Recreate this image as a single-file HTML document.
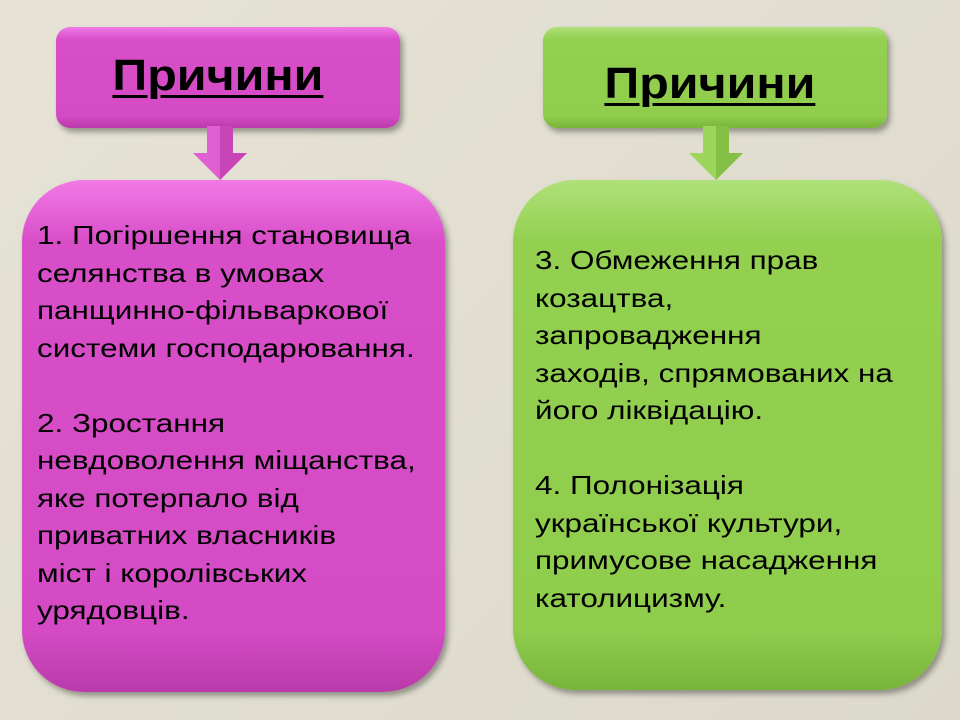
<!DOCTYPE html>
<html><head><meta charset="utf-8"><style>
body{margin:0;width:960px;height:720px;background:linear-gradient(135deg,#e6e3d6,#dcd9cb);position:relative;overflow:hidden;font-family:"Liberation Sans",Arial,sans-serif}
.b{position:absolute;box-sizing:border-box;box-shadow:3px 4px 6px rgba(0,0,0,.35)}
.p{background:linear-gradient(180deg,#f27ae6 0%,#d84ec8 12%,#d54bc5 88%,#b93aaa 100%)}
.g{background:linear-gradient(180deg,#b0e07a 0%,#93d050 12%,#90cd4d 88%,#78b43a 100%)}
.t{border-radius:14px;font-weight:bold;font-size:44px;text-align:center}
.t span{display:inline-block;transform:scaleX(1.1);text-decoration:underline;text-decoration-thickness:3px;text-underline-offset:5px}
.m{border-radius:62px;font-size:26px;line-height:37.5px;color:#000}
.m div{transform:scaleX(1.21);transform-origin:0 0;white-space:nowrap}
.arr{position:absolute}
</style></head><body>
<div class="b p t" style="left:56px;top:27px;width:344px;height:101px;padding-top:24px;padding-right:20px"><span>Причини</span></div>
<div class="b g t" style="left:543px;top:27px;width:344px;height:101px;padding-top:32px;padding-right:10px"><span>Причини</span></div>
<svg class="arr" style="left:190px;top:126px" width="60" height="56"><polygon points="17,0 43,0 43,27 57,27 30,54 3,27 17,27" fill="#e060d2"/><polygon points="30,0 43,0 43,27 57,27 30,54" fill="#c845b8"/></svg>
<svg class="arr" style="left:686px;top:126px" width="60" height="56"><polygon points="17,0 43,0 43,27 57,27 30,54 3,27 17,27" fill="#9ed65c"/><polygon points="30,0 43,0 43,27 57,27 30,54" fill="#84c046"/></svg>
<div class="b p m" style="left:22px;top:180px;width:423px;height:512px;padding:37px 0 0 15px"><div>1. Погіршення становища<br>селянства в умовах<br>панщинно-фільваркової<br>системи господарювання.<br><br>2. Зростання<br>невдоволення міщанства,<br>яке потерпало від<br>приватних власників<br>міст і королівських<br>урядовців.</div></div>
<div class="b g m" style="left:513px;top:180px;width:429px;height:510px;padding:62px 0 0 22px"><div>3. Обмеження прав<br>козацтва,<br>запровадження<br>заходів, спрямованих на<br>його ліквідацію.<br><br>4. Полонізація<br>української культури,<br>примусове насадження<br>католицизму.</div></div>
</body></html>
